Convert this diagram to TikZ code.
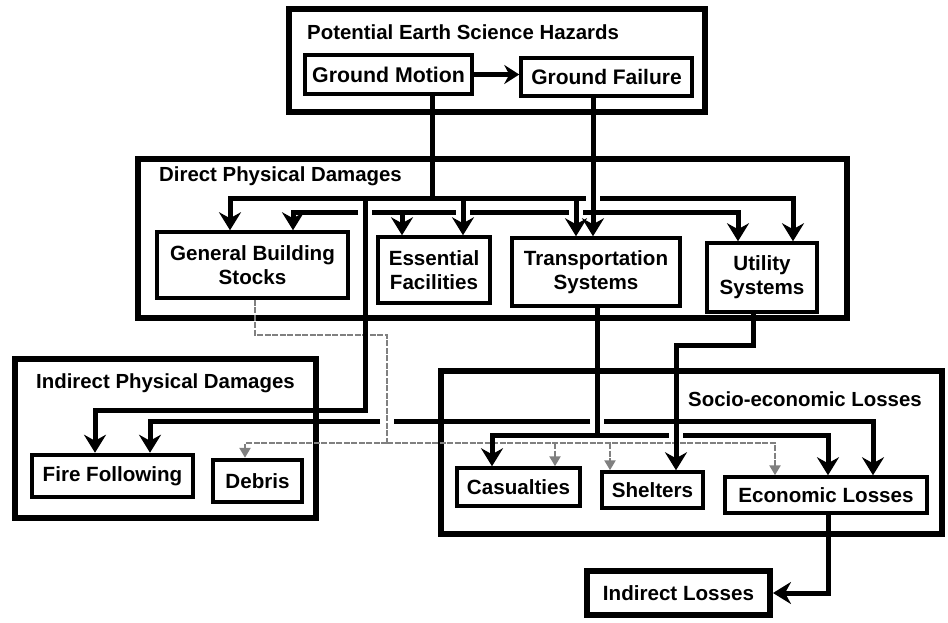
\documentclass[tikz,border=0pt]{standalone}
\usepackage{fontspec}
\setmainfont{Liberation Sans}
\usetikzlibrary{arrows.meta}
\begin{document}
\begin{tikzpicture}[x=1pt,y=-1pt,
  frame/.style={draw=black, line width=6.5pt},
  box/.style={draw=black, line width=3.5pt, fill=white, inner sep=0pt, align=center, font=\fontsize{20.6}{24}\selectfont\bfseries},
  title/.style={anchor=west, inner sep=0pt, font=\fontsize{20.4}{24}\selectfont\bfseries},
  conn/.style={draw=black, line width=5pt},
  arr/.style={conn, -{Stealth[length=18pt,width=22pt,inset=6pt]}},
  gline/.style={draw=black!50, line width=2.5pt, dash pattern=on 6pt off 1.5pt},
  garr/.style={gline, -{Triangle[length=10pt,width=11pt]}}]
\useasboundingbox (0,0) rectangle (948,622);

% frames
\draw[frame] (289,9) rectangle (705,112);
\draw[frame] (138,159) rectangle (847,318);
\draw[frame] (15,359) rectangle (316,518);
\draw[frame] (441,371) rectangle (942,534);

% titles
\node[title] (tHaz) at (307,32) {Potential Earth Science Hazards};
\node[title] (tDir) at (159,176) {Direct Physical Damages};
\node[title] (tInd) at (36,383) {Indirect Physical Damages};
\node[title] (tSoc) at (688,399) {Socio-economic Losses};

% boxes
\node[box, font=\fontsize{21.3}{24}\selectfont\bfseries, minimum width=167pt, minimum height=39pt] (gm) at (388.5,74.5) {Ground Motion};
\node[box, font=\fontsize{21}{24}\selectfont\bfseries, minimum width=171pt, minimum height=38pt] (gf) at (606.5,77) {Ground Failure};
\node[box, minimum width=191pt, minimum height=66pt] (gbs) at (252.5,265) {General Building\\Stocks};
\node[box, minimum width=112pt, minimum height=66pt] (ess) at (434,270) {Essential\\Facilities};
\node[box, minimum width=168pt, minimum height=68pt] (trans) at (596,272) {Transportation\\Systems};
\node[box, minimum width=110pt, minimum height=69pt] (util) at (762,277.5) {Utility\\Systems};
\node[box, line width=4.5pt, minimum width=161pt, minimum height=42pt] (ff) at (112.5,476) {Fire Following};
\node[box, line width=4.5pt, minimum width=89pt, minimum height=42pt] (deb) at (257.5,481) {Debris};
\node[box, minimum width=123pt, minimum height=38pt] (cas) at (518.5,487) {Casualties};
\node[box, minimum width=101pt, minimum height=36pt] (shel) at (652.5,490) {Shelters};
\node[box, minimum width=202pt, minimum height=36pt] (econ) at (826,495) {Economic Losses};
\node[box, line width=6pt, minimum width=183pt, minimum height=44pt] (il) at (678.5,593) {Indirect Losses};

% x positions
\coordinate (a230) at (230,0);
\coordinate (a293) at (293,0);
\coordinate (a402) at (402,0);
\coordinate (a432) at (432,0);
\coordinate (a463) at (463,0);
\coordinate (a578) at (576,0);
\coordinate (a592) at (593,0);
\coordinate (a738) at (738,0);
\coordinate (a793) at (793,0);
\coordinate (b95) at (95,0);
\coordinate (b150) at (150,0);
\coordinate (b245) at (245,0);
\coordinate (b255) at (255,0);
\coordinate (b492) at (492,0);
\coordinate (b555) at (555,0);
\coordinate (b597) at (597,0);
\coordinate (b610) at (610,0);
\coordinate (b676) at (676,0);
\coordinate (b753) at (753,0);
\coordinate (b775) at (775,0);
\coordinate (b828) at (828,0);
\coordinate (b873) at (873,0);

% grey lines from General Building Stocks
\draw[gline] (b255 |- gbs.south) -- (255,335) -- (387,335) -- (387,443);
\draw[garr] (387,443) -| (b245 |- deb.north);
\draw[garr] (387,443) -| (b775 |- econ.north);
\draw[garr] (555,443) -- (b555 |- cas.north);
\draw[garr] (610,443) -- (b610 |- shel.north);

% Ground Motion -> Ground Failure
\draw[conn, -{Stealth[length=15pt,width=19pt,inset=5pt]}] (gm.east) -- (gm.east -| gf.west);

% Ground Motion bus
\draw[conn] (a432 |- gm.south) -- (432,198);
\draw[arr] (432,198) -| (a230 |- gbs.north);
\draw[arr] (432,198) -| (a578 |- trans.north);
\draw[conn] (576,198) -- (586,198);
\draw[arr] (600,198) -| (a793 |- util.north);
\draw[arr] (463,198) -- (a463 |- ess.north);
\draw[arr] (365,198) -- (365,410) -- (95,410) -- (b95 |- ff.north);

% Ground Failure bus
\draw[arr] (a592 |- gf.south) -- (a592 |- trans.north);
\draw[arr] (358,212) -| (a293 |- gbs.north);
\draw[conn] (372,212) -- (456,212);
\draw[arr] (402,212) -- (a402 |- ess.north);
\draw[conn] (470,212) -- (569,212);
\draw[arr] (583,212) -| (a738 |- util.north);

% Utility Systems
\draw[arr] (b753 |- util.south) -- (753,345) -- (676,345) -- (b676 |- shel.north);
\draw[arr] (676,421) -| (b873 |- econ.north);
\draw[conn] (676,421) -- (604,421);
\draw[conn] (590,421) -- (394,421);
\draw[arr] (380,421) -| (b150 |- ff.north);

% Transportation Systems
\draw[conn] (b597 |- trans.south) -- (597,435);
\draw[arr] (597,435) -| (b492 |- cas.north);
\draw[conn] (597,435) -- (669,435);
\draw[arr] (683,435) -| (b828 |- econ.north);

% Economic Losses -> Indirect Losses
\draw[arr] (b828 |- econ.south) |- (il.east);
\end{tikzpicture}
\end{document}
